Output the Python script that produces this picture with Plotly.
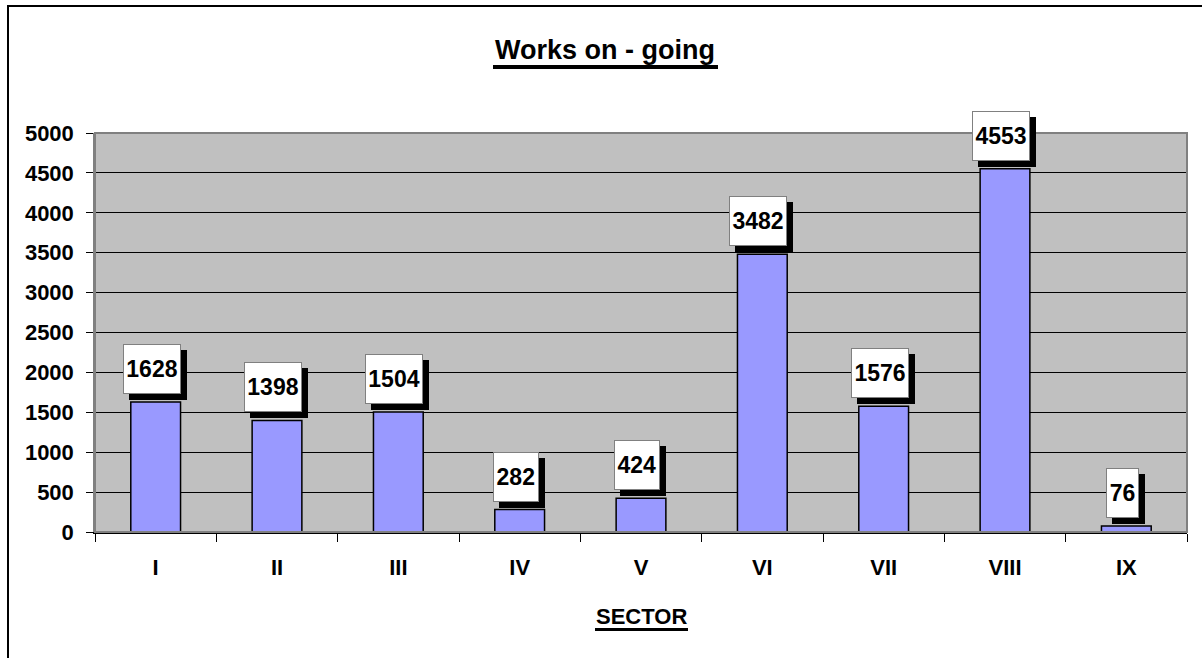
import plotly.graph_objects as go

sectors = ["I", "II", "III", "IV", "V", "VI", "VII", "VIII", "IX"]
works = [1628, 1398, 1504, 282, 424, 3482, 1576, 4553, 76]
y_ticks = [0, 500, 1000, 1500, 2000, 2500, 3000, 3500, 4000, 4500, 5000]

FONT = "Liberation Sans, Arial, sans-serif"
W, H = 1202, 658
L, R, T, B = 95, 15, 133, 126
PW, PH = W - L - R, H - T - B

fig = go.Figure()
fig.add_trace(go.Bar(
    x=sectors, y=works, width=0.41,
    marker=dict(color="#9999FF", line=dict(color="black", width=1.5)),
    hoverinfo="x+y",
))

anns = []
for s, v in zip(sectors, works):
    txt = str(v)
    bw = 12.5 * len(txt) + 8
    # shadow
    anns.append(dict(x=s, y=v, xref="x", yref="y", text=" ", showarrow=False,
                     xanchor="center", yanchor="bottom", xshift=2, yshift=2,
                     width=bw - 2, height=48, bgcolor="black", bordercolor="black",
                     borderwidth=1, borderpad=0,
                     font=dict(family=FONT, size=23, color="black")))
    anns.append(dict(x=s, y=v, xref="x", yref="y", text="<b>%s</b>" % txt, showarrow=False,
                     xanchor="center", yanchor="bottom", xshift=-4, yshift=8,
                     width=bw - 2, height=48, bgcolor="white", bordercolor="#808080",
                     borderwidth=1, borderpad=0,
                     font=dict(family=FONT, size=23, color="black")))


def px_x(px):
    return (px - L) / PW


def px_y(py):
    return (H - B - py) / PH


# title and axis title as annotations
anns.append(dict(x=px_x(605), y=px_y(50), xref="paper", yref="paper",
                 text="<b>Works on - going</b>", showarrow=False,
                 xanchor="center", yanchor="middle",
                 font=dict(family=FONT, size=27, color="black")))
anns.append(dict(x=px_x(641), y=px_y(616), xref="paper", yref="paper",
                 text="<b>SECTOR</b>", showarrow=False,
                 xanchor="center", yanchor="middle",
                 font=dict(family=FONT, size=22, color="black")))

shapes = [
    # outer chart frame
    dict(type="rect", xref="paper", yref="paper", x0=px_x(8), x1=px_x(1215), y0=px_y(680), y1=px_y(6),
         line=dict(color="black", width=2), layer="below"),
    # plot area border
    dict(type="rect", xref="paper", yref="paper", x0=0, x1=1, y0=0, y1=1,
         line=dict(color="#808080", width=2), layer="above"),
    # title underline
    dict(type="line", xref="paper", yref="paper", x0=px_x(493), x1=px_x(718), y0=px_y(67), y1=px_y(67),
         line=dict(color="black", width=4)),
    # SECTOR underline
    dict(type="line", xref="paper", yref="paper", x0=px_x(595), x1=px_x(688), y0=px_y(629.5), y1=px_y(629.5),
         line=dict(color="black", width=3)),
]

fig.update_layout(
    width=W, height=H,
    margin=dict(l=L, r=R, t=T, b=B, pad=0),
    paper_bgcolor="white", plot_bgcolor="#C0C0C0",
    showlegend=False,
    annotations=anns, shapes=shapes,
    font=dict(family=FONT, color="black"),
)
fig.update_xaxes(
    type="category", tickson="boundaries", ticks="outside", ticklen=8, tickcolor="black",
    tickwidth=1, showline=True, linecolor="black", linewidth=1.5, showgrid=False,
    tickfont=dict(family=FONT, size=22, color="black"), tickprefix="<b>", ticksuffix="</b>",
    ticklabelstandoff=15,
)
fig.update_yaxes(
    range=[0, 5000], tickvals=y_ticks, ticktext=["<b>%d</b>" % t for t in y_ticks],
    ticks="outside", ticklen=7, tickcolor="black", showline=True, linecolor="#808080", linewidth=1.5,
    showgrid=True, gridcolor="black", gridwidth=1, zeroline=False,
    tickfont=dict(family=FONT, size=22, color="black"), ticklabelstandoff=8,
)

fig.write_html("out.html", config={"displayModeBar": False},
               post_script="document.body.style.margin='0';document.body.style.overflow='hidden';")
